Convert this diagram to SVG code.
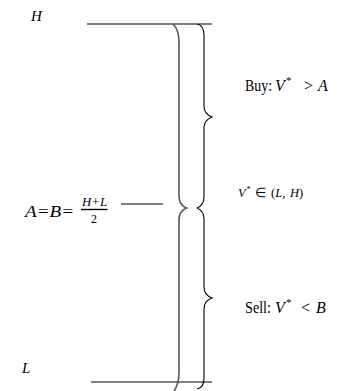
<svg xmlns="http://www.w3.org/2000/svg" width="342" height="391" viewBox="0 0 342 391">
<style>
.t{font-family:"Liberation Serif","Times New Roman",serif;fill:#000}
.i{font-style:italic}
.ln{stroke:#000;stroke-width:1.1;fill:none}
.br{stroke:#000;stroke-width:1.1;fill:none}
.bl{stroke:#555;stroke-width:1.6;fill:none}
</style>
<rect width="342" height="391" fill="#fff"/>
<g id="connectors">
<line class="ln" x1="87" y1="24" x2="212" y2="24"/>
<line class="ln" x1="91" y1="382" x2="212" y2="382"/>
<line class="ln" x1="121" y1="204" x2="163" y2="204"/>
</g>
<g id="brace-left">
<path class="bl" d="M173,24 Q179,30 179,42 L179,196 Q179,205 186.5,208 Q179,211 179,220 L179,372 Q179,384 174,391"/>
</g>
<g id="brace-buy">
<path class="br" d="M197,24 Q204,25 204,36 L204,106 Q204,114 212,117 Q204,120 204,128 L204,197 Q204,205 197,208"/>
</g>
<g id="brace-sell">
<path class="br" d="M197,208 Q204,211 204,219 L204,287 Q204,295 212,298 Q204,301 204,309 L204,378 Q204,388 197,389"/>
</g>
<g id="label-H"><text class="t i" x="31" y="21" font-size="15">H</text></g>
<g id="label-L"><text class="t i" x="22" y="373" font-size="15">L</text></g>
<g id="label-AB">
<text class="t i" x="25" y="217" font-size="16" textLength="49" lengthAdjust="spacingAndGlyphs">A=B=</text>
<text class="t i" x="82" y="206" font-size="12" textLength="25" lengthAdjust="spacingAndGlyphs">H+L</text>
<line x1="81" y1="209.5" x2="107.5" y2="209.5" stroke="#000" stroke-width="1.4"/>
<text class="t" x="91" y="223" font-size="12">2</text>
</g>
<g id="label-buy">
<text class="t" y="91" font-size="16"><tspan x="245" textLength="27" lengthAdjust="spacingAndGlyphs">Buy:</tspan><tspan class="i" x="275">V</tspan><tspan x="286" y="84" font-size="11">*</tspan><tspan x="304" y="91">&gt;</tspan><tspan class="i" x="318">A</tspan></text>
</g>
<g id="label-range">
<text class="t" y="197" font-size="12.5"><tspan class="i" x="238">V</tspan><tspan x="246.5" y="192" font-size="8">*</tspan><tspan x="255" y="197">∈</tspan><tspan x="271">(</tspan><tspan class="i">L</tspan><tspan>,</tspan><tspan class="i" x="290">H</tspan><tspan>)</tspan></text>
</g>
<g id="label-sell">
<text class="t" y="313" font-size="16"><tspan x="245" textLength="26" lengthAdjust="spacingAndGlyphs">Sell:</tspan><tspan class="i" x="275">V</tspan><tspan x="286" y="306" font-size="11">*</tspan><tspan x="301" y="313">&lt;</tspan><tspan class="i" x="316">B</tspan></text>
</g>
</svg>
